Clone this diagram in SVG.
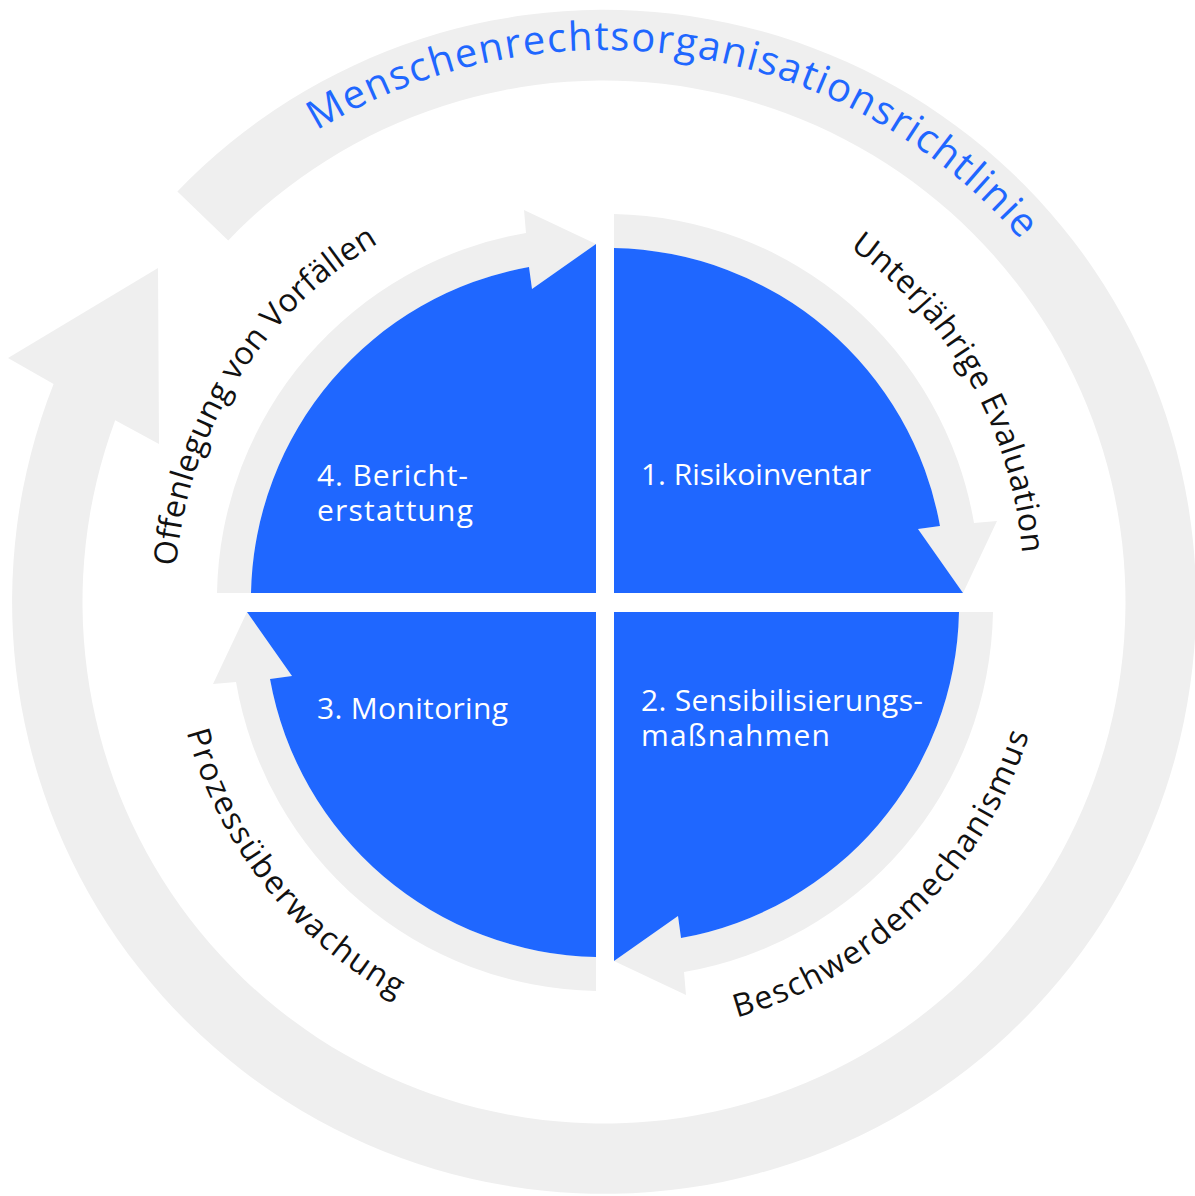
<svg xmlns="http://www.w3.org/2000/svg" width="1195" height="1196" viewBox="0 0 1195 1196">
  <style>
    .blue { fill: #1F67FF; }
    .gray { fill: #EFEFEF; }
    .wlabel { font-family: "Open Sans", "Noto Sans", sans-serif; font-size: 30px; font-weight: 500; fill: #FFFFFF; }
    .arc { font-family: "Open Sans", "Noto Sans", sans-serif; font-size: 32px; fill: #111111; }
    .outer { font-family: "Open Sans", "Noto Sans", sans-serif; font-size: 40px; fill: #1F67FF; }
  </style>
  <defs>
    <path id="quad-blue" d="M0,0 L0,-345 A338,338 0 0 1 326,-67 L304,-64 L349,0 Z"/>
    <path id="quad-arrow" d="M0,-345 L0,-379 A372,372 0 0 1 360,-70 L383,-72 L349,0 L304,-64 L326,-67 A338,338 0 0 0 0,-345 Z"/>
    <path id="p-outer" d="M316.8,130.6 A552,552 0 0 1 1020.6,239.9"/>
    <path id="p-tr" d="M849.7,247.8 A416,416 0 0 1 1022.2,553.4"/>
    <path id="p-br" d="M736.8,1017.5 A428,428 0 0 0 1029.1,734.5"/>
    <path id="p-bl" d="M186.6,732.0 A431,431 0 0 0 396.8,997.8"/>
    <path id="p-tl" d="M176.3,566.3 A414,414 0 0 1 378.3,243.2"/>
  </defs>

  <rect x="0" y="0" width="1195" height="1196" fill="#FFFFFF"/>

  <g id="connectors">
    <path id="outer-cycle" class="gray" d="M177.4,191.5 A592,592 0 1 1 53.6,384.1 L8,358 L158,268 L159,444 L115.2,420.2 A521.5,521.5 0 1 0 228.2,240.4 Z"/>
    <use id="arrow-1-2" href="#quad-arrow" class="gray" transform="translate(614,593)"/>
    <use id="arrow-2-3" href="#quad-arrow" class="gray" transform="translate(614,612) rotate(90)"/>
    <use id="arrow-3-4" href="#quad-arrow" class="gray" transform="translate(596,612) rotate(180)"/>
    <use id="arrow-4-1" href="#quad-arrow" class="gray" transform="translate(596,593) rotate(270)"/>
  </g>

  <g id="node-1">
    <use href="#quad-blue" class="blue" transform="translate(614,593)"/>
    <text class="wlabel" x="641" y="485" textLength="230">1. Risikoinventar</text>
  </g>
  <g id="node-2">
    <use href="#quad-blue" class="blue" transform="translate(614,612) rotate(90)"/>
    <text class="wlabel"><tspan x="641" y="711" textLength="282">2. Sensibilisierungs-</tspan><tspan x="641" y="746" textLength="189">maßnahmen</tspan></text>
  </g>
  <g id="node-3">
    <use href="#quad-blue" class="blue" transform="translate(596,612) rotate(180)"/>
    <text class="wlabel" x="317" y="719" textLength="191">3. Monitoring</text>
  </g>
  <g id="node-4">
    <use href="#quad-blue" class="blue" transform="translate(596,593) rotate(270)"/>
    <text class="wlabel"><tspan x="317" y="486" textLength="151">4. Bericht-</tspan><tspan x="317" y="521" textLength="156">erstattung</tspan></text>
  </g>

  <g id="labels">
    <text class="outer"><textPath href="#p-outer" textLength="774">Menschenrechtsorganisationsrichtlinie</textPath></text>
    <text class="arc"><textPath href="#p-tr" textLength="362">Unterjährige Evaluation</textPath></text>
    <text class="arc"><textPath href="#p-br" textLength="424">Beschwerdemechanismus</textPath></text>
    <text class="arc"><textPath href="#p-bl" textLength="348">Prozessüberwachung</textPath></text>
    <text class="arc"><textPath href="#p-tl" textLength="396">Offenlegung von Vorfällen</textPath></text>
  </g>
</svg>
